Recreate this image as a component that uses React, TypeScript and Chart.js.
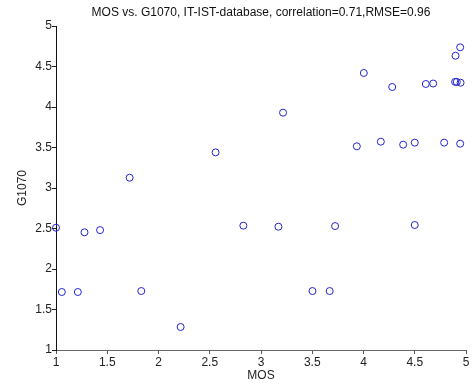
import React, { useEffect, useRef } from "react";
import { Chart, registerables } from "chart.js";

Chart.register(...registerables);

const mosValues: number[] = [
  1.0, 1.057, 1.213, 1.278, 1.43, 1.718, 1.832, 2.216, 2.557, 2.828,
  3.17, 3.215, 3.502, 3.67, 3.723, 3.935, 4.003, 4.169, 4.28, 4.387,
  4.5, 4.5, 4.608, 4.68, 4.787, 4.894, 4.898, 4.91, 4.943, 4.943, 4.947,
];
const g1070Values: number[] = [
  2.51, 1.716, 1.716, 2.453, 2.48, 3.127, 1.728, 1.284, 3.44, 2.535,
  2.522, 3.93, 1.728, 1.728, 2.53, 3.515, 4.42, 3.572, 4.247, 3.535,
  3.56, 2.543, 4.284, 4.29, 3.56, 4.31, 4.633, 4.31, 4.737, 3.547, 4.30,
];
const titleText = "MOS vs. G1070, IT-IST-database, correlation=0.71,RMSE=0.96";
const xLabel = "MOS";
const yLabel = "G1070";
const axisMin = 1;
const axisMax = 5;
const tickStep = 0.5;

export default function App() {
  const ref = useRef<HTMLCanvasElement | null>(null);
  useEffect(() => {
    document.body.style.margin = "0";
    const ctx = ref.current!;
    const points = mosValues.map((x, i) => ({ x, y: g1070Values[i] }));
    const font = { family: "'Liberation Sans', Arial, sans-serif", size: 12 };
    const chart = new Chart(ctx, {
      type: "scatter",
      data: {
        datasets: [
          {
            data: points,
            pointStyle: "circle",
            pointRadius: 3.5,
            pointBorderWidth: 1,
            borderColor: "rgb(35,35,205)",
            backgroundColor: "rgba(0,0,0,0)",
            clip: false as any,
          },
        ],
      },
      options: {
        responsive: false,
        animation: false,
        layout: { padding: { left: 0, right: 6, top: 0, bottom: 0 } },
        plugins: {
          legend: { display: false },
          tooltip: { enabled: false },
          title: {
            display: true,
            text: titleText,
            fullSize: false,
            color: "#111",
            font: { ...font, size: 12, weight: "normal" },
            padding: { top: 5.5, bottom: 6.1 },
          },
        },
        scales: {
          x: {
            type: "linear",
            min: axisMin,
            max: axisMax,
            afterFit: (s: any) => {
              s.height = 35;
            },
            ticks: {
              stepSize: tickStep,
              color: "#222",
              font: { ...font, size: 12 },
              padding: 1,
              maxRotation: 0,
              callback: (v: any) => String(v),
            },
            grid: { display: true, drawOnChartArea: false, drawTicks: true, tickLength: 4, color: "#555" },
            border: { display: true, color: "#666", width: 1 },
            title: {
              display: true,
              text: xLabel,
              color: "#222",
              font: { ...font, size: 12 },
              padding: { top: 0, bottom: 2 },
            },
          },
          y: {
            type: "linear",
            min: axisMin,
            max: axisMax,
            afterFit: (s: any) => {
              s.width = 56;
            },
            ticks: {
              stepSize: tickStep,
              color: "#222",
              font: { ...font, size: 12 },
              padding: 0,
              callback: (v: any) => String(v),
            },
            grid: { display: true, drawOnChartArea: false, drawTicks: true, tickLength: 4, color: "#222" },
            border: { display: true, color: "#111", width: 1 },
            title: {
              display: true,
              text: yLabel,
              color: "#222",
              font: { ...font, size: 12 },
              padding: { top: 15, bottom: 0 },
            },
          },
        },
      },
    });
    return () => chart.destroy();
  }, []);
  return (
    <div style={{ width: 472, height: 385, background: "#fff" }}>
      <canvas ref={ref} width={472} height={385} />
    </div>
  );
}
